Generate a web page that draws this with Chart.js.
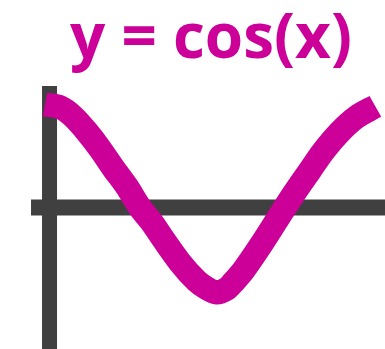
<!DOCTYPE html>
<html>
<head>
<meta charset="utf-8">
<script src="https://cdn.jsdelivr.net/npm/chart.js@4.4.1/dist/chart.umd.min.js"></script>
<style>
    html, body { margin: 0; padding: 0; background: #ffffff; }
    #wrap { width: 385px; height: 349px; position: relative; }
</style>
</head>
<body>
<div id="wrap"><canvas id="cos-chart"></canvas></div>
<script>
// curve points (x in radians)
let curveX = [0, 0.28, 0.52, 0.77, 1.01, 1.26, 1.50, 1.75, 1.97, 2.17, 2.48, 2.79, 2.96,
              3.15, 3.34, 3.46, 3.64, 3.95, 4.26, 4.56, 4.87, 5.11, 5.42, 5.73, 6.07];
let curveY = [1.00, 0.97, 0.87, 0.71, 0.53, 0.32, 0.13, -0.10, -0.26, -0.43, -0.68, -0.88, -0.95,
              -1.00, -0.96, -0.89, -0.77, -0.51, -0.23, 0.04, 0.30, 0.50, 0.71, 0.87, 0.98];

// where the two dark axis bars sit, in the same units
let xAxisAt = -0.096;   // y value of the horizontal bar
let yAxisAt = 0.083;    // x value of the vertical bar

let xRange = [-0.827, 6.247];
let yRange = [-1.601, 1.197];

let titleText = 'y = cos(x)';
let magenta = '#CC0099';
let axisGray = '#404040';

// title drawn by hand so it can sit a bit right of centre like the original
const titlePlugin = {
    id: 'handTitle',
    afterDraw(chart) {
        const ctx = chart.ctx;
        ctx.save();
        ctx.font = 'bold 62px "Open Sans"';
        ctx.fillStyle = magenta;
        ctx.textAlign = 'center';
        ctx.textBaseline = 'middle';
        ctx.fillText(titleText, 211, 40);
        ctx.restore();
    }
};

let config = {
    type: 'line',
    data: {
        datasets: [
            {
                label: 'x axis',
                data: [{x: -0.257, y: xAxisAt}, {x: xRange[1], y: xAxisAt}],
                borderColor: axisGray,
                borderWidth: 16,
                borderCapStyle: 'butt',
                pointRadius: 0,
                order: 2
            },
            {
                label: 'y axis',
                data: [{x: yAxisAt, y: yRange[1]}, {x: yAxisAt, y: yRange[0]}],
                borderColor: axisGray,
                borderWidth: 15,
                borderCapStyle: 'butt',
                pointRadius: 0,
                order: 2
            },
            {
                label: 'cos',
                data: curveX.map((x, i) => ({x: x, y: curveY[i]})),
                borderColor: magenta,
                borderWidth: 24,
                borderCapStyle: 'butt',
                borderJoinStyle: 'round',
                tension: 0.3,
                pointRadius: 0,
                order: 1
            }
        ]
    },
    options: {
        responsive: true,
        maintainAspectRatio: false,
        animation: false,
        layout: {
            padding: {top: 86, left: 0, right: 0, bottom: 0}
        },
        plugins: {
            legend: {display: false},
            tooltip: {enabled: false},
            title: {display: false}
        },
        scales: {
            x: {type: 'linear', min: xRange[0], max: xRange[1], display: false},
            y: {type: 'linear', min: yRange[0], max: yRange[1], display: false}
        }
    },
    plugins: [titlePlugin]
};

new Chart(document.getElementById('cos-chart'), config);
</script>
</body>
</html>
